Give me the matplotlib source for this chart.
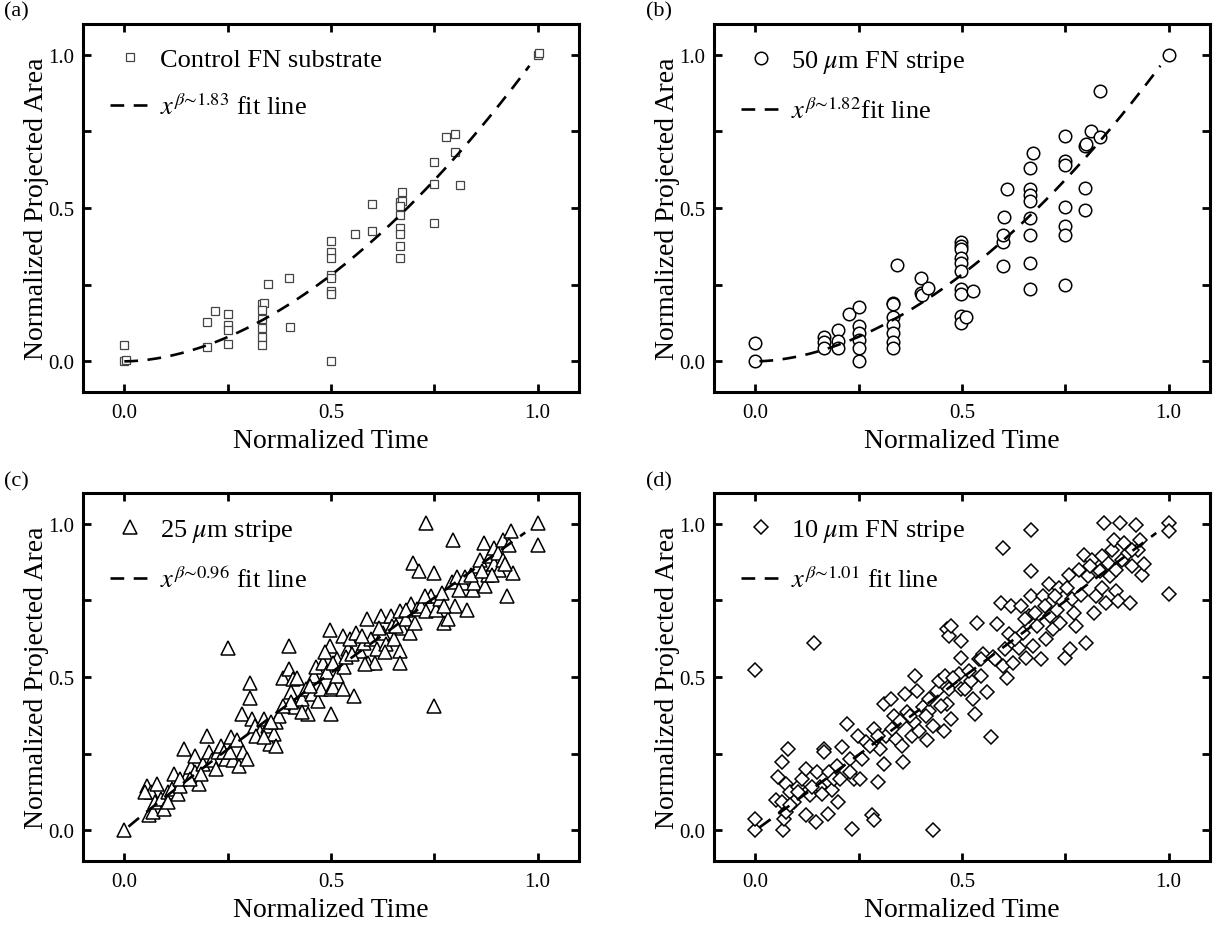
import matplotlib

matplotlib.use("Agg")
import matplotlib.pyplot as plt  # noqa: E402
import numpy as np  # noqa: E402

plt.rcParams["font.family"] = ["Liberation Serif", "DejaVu Serif"]
plt.rcParams["mathtext.fontset"] = "stix"

# ---- panel (a): control FN substrate ----
a_x = [0.0, 0.004, 0.0, 0.2, 0.22, 0.2, 0.25, 0.25, 0.25, 0.25,
       0.333, 0.337, 0.333, 0.333, 0.333, 0.333, 0.333, 0.348, 0.398, 0.4,
       0.5, 0.5, 0.5, 0.5, 0.5, 0.5, 0.5, 0.5, 0.558, 0.598,
       0.598, 0.667, 0.671, 0.667, 0.672, 0.667, 0.667, 0.667, 0.667, 0.667,
       0.75, 0.75, 0.75, 0.778, 0.8, 0.8, 0.811, 1.0, 1.004]
a_y = [0.0, 0.004, 0.052, 0.128, 0.163, 0.046, 0.154, 0.117, 0.103, 0.056,
       0.187, 0.191, 0.168, 0.139, 0.108, 0.078, 0.054, 0.252, 0.271, 0.111,
       0.393, 0.358, 0.336, 0.282, 0.271, 0.23, 0.219, 0.0, 0.414, 0.512,
       0.426, 0.518, 0.522, 0.508, 0.553, 0.477, 0.434, 0.414, 0.377, 0.336,
       0.651, 0.578, 0.452, 0.732, 0.74, 0.683, 0.575, 1.0, 1.004]

# ---- panel (b): 50 um FN stripe ----
b_x = [0.0, 0.0, 0.166, 0.166, 0.166, 0.2, 0.2, 0.2, 0.226, 0.25,
       0.25, 0.25, 0.25, 0.25, 0.25, 0.333, 0.333, 0.333, 0.333, 0.333,
       0.333, 0.333, 0.342, 0.4, 0.4, 0.404, 0.418, 0.498, 0.498, 0.498,
       0.498, 0.498, 0.498, 0.498, 0.498, 0.498, 0.498, 0.51, 0.527, 0.599,
       0.599, 0.602, 0.608, 0.599, 0.664, 0.671, 0.664, 0.664, 0.664, 0.664,
       0.664, 0.664, 0.664, 0.75, 0.748, 0.748, 0.748, 0.748, 0.748, 0.75,
       0.798, 0.811, 0.798, 0.798, 0.833, 0.835, 0.8, 1.0]
b_y = [0.0, 0.06, 0.08, 0.063, 0.042, 0.102, 0.067, 0.045, 0.153, 0.178,
       0.115, 0.091, 0.069, 0.042, 0.0, 0.191, 0.187, 0.145, 0.118, 0.091,
       0.063, 0.045, 0.315, 0.271, 0.222, 0.216, 0.24, 0.388, 0.377, 0.366,
       0.337, 0.32, 0.293, 0.235, 0.22, 0.148, 0.126, 0.146, 0.23, 0.388,
       0.413, 0.471, 0.563, 0.31, 0.632, 0.679, 0.563, 0.544, 0.522, 0.468,
       0.413, 0.322, 0.235, 0.736, 0.654, 0.64, 0.503, 0.44, 0.413, 0.249,
       0.703, 0.752, 0.566, 0.495, 0.732, 0.883, 0.71, 1.0]

# ---- panel (c): 25 um stripe ----
c_x = [0.0, 0.056, 0.065, 0.079, 0.06, 0.069, 0.074, 0.088, 0.097, 0.106,
       0.116, 0.12, 0.13, 0.134, 0.144, 0.153, 0.162, 0.171, 0.181, 0.171,
       0.19, 0.199, 0.204, 0.213, 0.222, 0.227, 0.234, 0.25, 0.245, 0.259,
       0.264, 0.273, 0.278, 0.287, 0.296, 0.284, 0.303, 0.303, 0.31, 0.315,
       0.329, 0.338, 0.347, 0.352, 0.361, 0.366, 0.368, 0.375, 0.384, 0.398,
       0.398, 0.403, 0.407, 0.412, 0.417, 0.431, 0.44, 0.444, 0.454, 0.458,
       0.463, 0.468, 0.477, 0.481, 0.491, 0.497, 0.497, 0.5, 0.5, 0.505,
       0.514, 0.514, 0.528, 0.53, 0.532, 0.542, 0.546, 0.556, 0.56, 0.569,
       0.579, 0.586, 0.59, 0.597, 0.606, 0.611, 0.62, 0.625, 0.634, 0.644,
       0.648, 0.653, 0.667, 0.667, 0.667, 0.671, 0.681, 0.692, 0.694, 0.699,
       0.708, 0.713, 0.718, 0.731, 0.731, 0.741, 0.75, 0.75, 0.755, 0.764,
       0.769, 0.773, 0.782, 0.792, 0.796, 0.801, 0.806, 0.819, 0.824, 0.829,
       0.843, 0.847, 0.856, 0.861, 0.87, 0.873, 0.88, 0.884, 0.894, 0.894,
       0.903, 0.907, 0.917, 0.917, 0.926, 0.931, 0.935, 0.94, 1.0, 1.0,
       0.051, 0.106, 0.134, 0.159, 0.185, 0.241, 0.255, 0.319, 0.338, 0.356,
       0.384, 0.403, 0.431, 0.449, 0.486, 0.505, 0.537, 0.551, 0.574, 0.583,
       0.616, 0.63, 0.657, 0.681, 0.704, 0.727, 0.773, 0.81, 0.838, 0.866,
       0.889, 0.921]
c_y = [0.0, 0.146, 0.125, 0.152, 0.049, 0.06, 0.092, 0.103, 0.07, 0.125,
       0.135, 0.184, 0.119, 0.146, 0.265, 0.184, 0.206, 0.244, 0.152, 0.19,
       0.217, 0.309, 0.255, 0.228, 0.2, 0.255, 0.276, 0.593, 0.233, 0.303,
       0.228, 0.293, 0.211, 0.255, 0.233, 0.379, 0.48, 0.433, 0.363, 0.341,
       0.32, 0.363, 0.341, 0.282, 0.314, 0.276, 0.352, 0.374, 0.498, 0.6,
       0.525, 0.45, 0.493, 0.401, 0.498, 0.428, 0.46, 0.379, 0.444, 0.504,
       0.531, 0.423, 0.461, 0.547, 0.515, 0.654, 0.602, 0.379, 0.461, 0.466,
       0.504, 0.558, 0.634, 0.461, 0.531, 0.591, 0.623, 0.439, 0.645, 0.585,
       0.612, 0.688, 0.547, 0.623, 0.547, 0.591, 0.699, 0.645, 0.607, 0.699,
       0.667, 0.623, 0.585, 0.547, 0.715, 0.661, 0.688, 0.645, 0.737, 0.872,
       0.721, 0.845, 0.731, 1.001, 0.715, 0.764, 0.839, 0.406, 0.72, 0.753,
       0.775, 0.677, 0.688, 0.81, 0.948, 0.731, 0.826, 0.806, 0.826, 0.72,
       0.785, 0.806, 0.861, 0.883, 0.937, 0.796, 0.834, 0.894, 0.921, 0.867,
       0.904, 0.85, 0.948, 0.883, 0.764, 0.932, 0.975, 0.839, 1.002, 0.932,
       0.125, 0.092, 0.168, 0.168, 0.184, 0.255, 0.255, 0.309, 0.303, 0.352,
       0.406, 0.417, 0.385, 0.471, 0.58, 0.547, 0.564, 0.575, 0.634, 0.542,
       0.661, 0.58, 0.667, 0.72, 0.677, 0.764, 0.731, 0.785, 0.834, 0.845,
       0.834, 0.867]

# ---- panel (d): 10 um FN stripe ----
d_x = [0.0, 0.0, 0.0, 0.067, 0.07, 0.075, 0.08, 0.065, 0.056, 0.051,
       0.065, 0.075, 0.085, 0.094, 0.104, 0.113, 0.123, 0.123, 0.133, 0.142,
       0.147, 0.15, 0.157, 0.166, 0.166, 0.176, 0.179, 0.186, 0.2, 0.198,
       0.21, 0.221, 0.229, 0.234, 0.238, 0.248, 0.253, 0.267, 0.282, 0.287,
       0.287, 0.296, 0.301, 0.311, 0.311, 0.315, 0.329, 0.335, 0.34, 0.354,
       0.358, 0.363, 0.368, 0.378, 0.383, 0.387, 0.392, 0.397, 0.406, 0.416,
       0.421, 0.429, 0.431, 0.44, 0.444, 0.457, 0.46, 0.464, 0.469, 0.474,
       0.464, 0.469, 0.474, 0.498, 0.498, 0.493, 0.498, 0.508, 0.522, 0.527,
       0.532, 0.537, 0.541, 0.546, 0.551, 0.561, 0.57, 0.575, 0.585, 0.594,
       0.599, 0.599, 0.609, 0.614, 0.619, 0.623, 0.637, 0.642, 0.647, 0.656,
       0.662, 0.666, 0.666, 0.666, 0.671, 0.681, 0.69, 0.695, 0.704, 0.71,
       0.714, 0.719, 0.729, 0.734, 0.738, 0.748, 0.758, 0.762, 0.767, 0.772,
       0.777, 0.787, 0.796, 0.801, 0.806, 0.815, 0.82, 0.825, 0.835, 0.839,
       0.844, 0.849, 0.854, 0.858, 0.863, 0.868, 0.873, 0.877, 0.882, 0.887,
       0.892, 0.902, 0.906, 0.911, 0.921, 0.926, 0.931, 0.935, 0.94, 1.0,
       1.0, 1.0,
       0.085, 0.104, 0.137, 0.161, 0.19, 0.205, 0.229, 0.258, 0.277, 0.296,
       0.33, 0.349, 0.373, 0.412, 0.421, 0.45, 0.479, 0.517, 0.546, 0.58,
       0.604, 0.628, 0.652, 0.676, 0.7, 0.724, 0.753, 0.782, 0.81, 0.839,
       0.873, 0.911]
d_y = [0.0, 0.038, 0.523, 0.0, 0.038, 0.06, 0.265, 0.222, 0.173, 0.098,
       0.092, 0.152, 0.125, 0.092, 0.141, 0.168, 0.2, 0.049, 0.114, 0.612,
       0.027, 0.19, 0.141, 0.265, 0.255, 0.054, 0.19, 0.13, 0.092, 0.211,
       0.271, 0.347, 0.233, 0.005, 0.168, 0.309, 0.168, 0.287, 0.049, 0.033,
       0.33, 0.157, 0.265, 0.412, 0.217, 0.309, 0.428, 0.374, 0.298, 0.276,
       0.222, 0.444, 0.385, 0.309, 0.352, 0.504, 0.455, 0.325, 0.401, 0.293,
       0.39, 0.0, 0.341, 0.455, 0.488, 0.325, 0.504, 0.412, 0.461, 0.363,
       0.655, 0.634, 0.666, 0.617, 0.563, 0.509, 0.46, 0.46, 0.488, 0.428,
       0.379, 0.677, 0.558, 0.504, 0.575, 0.45, 0.303, 0.564, 0.672, 0.742,
       0.921, 0.536, 0.498, 0.639, 0.731, 0.547, 0.596, 0.731, 0.645, 0.563,
       0.699, 0.98, 0.845, 0.764, 0.601, 0.666, 0.558, 0.764, 0.623, 0.802,
       0.699, 0.656, 0.72, 0.79, 0.677, 0.563, 0.834, 0.591, 0.753, 0.71,
       0.666, 0.769, 0.899, 0.612, 0.828, 0.883, 0.71, 0.764, 0.845, 0.79,
       1.002, 0.742, 0.872, 0.828, 0.915, 0.948, 0.78, 0.747, 1.002, 0.883,
       0.937, 0.905, 0.742, 0.861, 0.996, 0.915, 0.948, 0.834, 0.867, 1.002,
       0.975, 0.77,
       0.081, 0.125, 0.141, 0.119, 0.168, 0.168, 0.19, 0.233, 0.276, 0.309,
       0.33, 0.358, 0.374, 0.374, 0.428, 0.406, 0.498, 0.52, 0.558, 0.558,
       0.591, 0.623, 0.688, 0.71, 0.731, 0.764, 0.791, 0.85, 0.861, 0.894,
       0.85, 0.915]

panel_tags = ["(a)", "(b)", "(c)", "(d)"]
series_labels = ["Control FN substrate", r"50 $\mu$m FN stripe",
                 r"25 $\mu$m stripe", r"10 $\mu$m FN stripe"]
fit_betas = [1.83, 1.82, 0.96, 1.01]
fit_labels = [r"$x^{\beta∼1.83}$ fit line", r"$x^{\beta∼1.82}$fit line",
              r"$x^{\beta∼0.96}$ fit line", r"$x^{\beta∼1.01}$ fit line"]
fit_start = [0.0, 0.01, 0.01, 0.01]
fit_end = [0.98, 0.98, 0.97, 0.97]
tick_vals = [0.0, 0.25, 0.5, 0.75, 1.0]
tick_text = ["0.0", "", "0.5", "", "1.0"]

xs = [a_x, b_x, c_x, d_x]
ys = [a_y, b_y, c_y, d_y]
markers = [("s", 6.0, "#444444", 0.9), ("o", 9.0, "black", 1.1),
           ("^", 9.5, "black", 1.1), ("D", 7.2, "black", 1.1)]

W, H = 1222, 928
fig = plt.figure(figsize=(W / 100, H / 100), dpi=100)
boxes = [(83, 25), (714, 25), (83, 494), (714, 494)]
tag_pos = [(4, 12), (646, 12), (4, 482), (646, 482)]
aw, ah = 496, 368

for i in range(4):
    left, top = boxes[i]
    ax = fig.add_axes([left / W, 1 - (top + ah) / H, aw / W, ah / H])
    mk, ms, ec, mew = markers[i]
    ax.plot(xs[i], ys[i], linestyle="none", marker=mk, markersize=ms,
            markerfacecolor="white", markeredgecolor=ec, markeredgewidth=mew,
            label=series_labels[i], zorder=3)
    fx = np.linspace(fit_start[i], fit_end[i], 200)
    ax.plot(fx, fx ** fit_betas[i], color="black", lw=1.9,
            linestyle=(0, (5.2, 3.6)), label=fit_labels[i], zorder=4)
    ax.set_xlim(-0.1, 1.1)
    ax.set_ylim(-0.1, 1.1)
    ax.set_xticks(tick_vals, tick_text)
    ax.set_yticks(tick_vals, tick_text)
    ax.tick_params(direction="in", length=6, width=2.0, top=True, right=True,
                   labelsize=15)
    ax.tick_params(axis="x", pad=8)
    ax.tick_params(axis="y", pad=6)
    for sp in ax.spines.values():
        sp.set_linewidth(2.2)
    ax.set_xlabel("Normalized Time", fontsize=20, labelpad=4)
    ax.set_ylabel("Normalized Projected Area", fontsize=20, labelpad=0)
    ax.legend(loc="upper left", bbox_to_anchor=(0.055, 0.935), frameon=False,
              fontsize=19, numpoints=1, handlelength=1.5, handletextpad=0.4,
              borderaxespad=0.0, borderpad=0.0, labelspacing=0.8)
    tx, ty = tag_pos[i]
    fig.text(tx / W, 1 - ty / H, panel_tags[i], fontsize=16, ha="left", va="center")

fig.savefig("out.png", dpi=100)
